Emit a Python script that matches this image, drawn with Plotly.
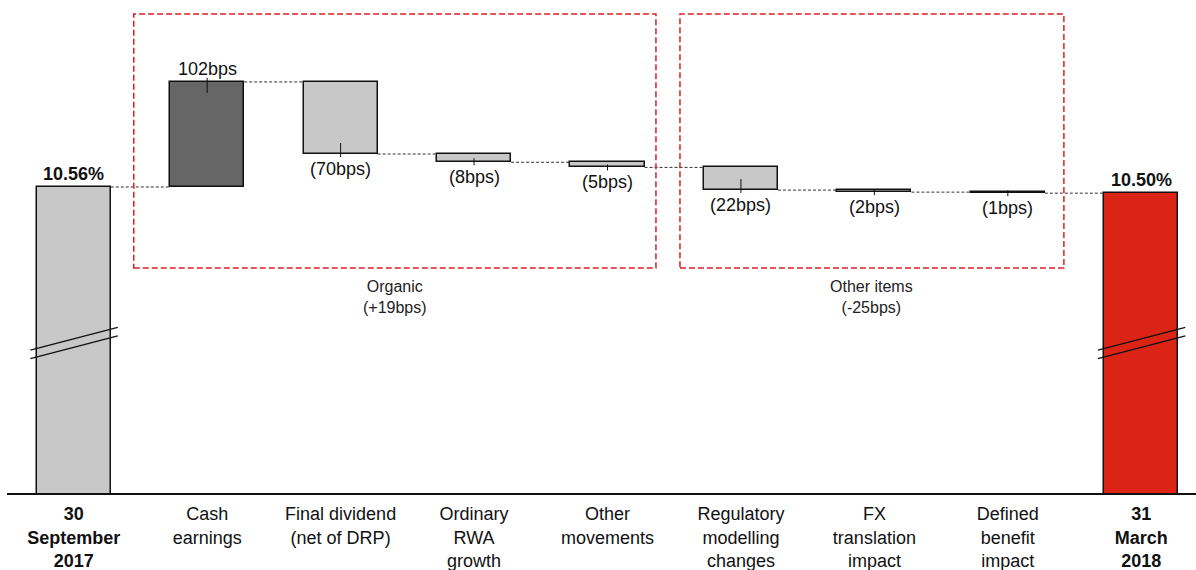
import plotly.graph_objects as go

# ---------------- data ----------------
categories = ["<b>30<br>September<br>2017</b>", "Cash<br>earnings", "Final dividend<br>(net of DRP)",
              "Ordinary<br>RWA<br>growth", "Other<br>movements", "Regulatory<br>modelling<br>changes",
              "FX<br>translation<br>impact", "Defined<br>benefit<br>impact", "<b>31<br>March<br>2018</b>"]
start_value = 10.56          # % CET1
end_value = 10.50            # %
changes_bps = [102, -70, -8, -5, -22, -2, -1]
value_labels = ["10.56%", "102bps", "(70bps)", "(8bps)", "(5bps)", "(22bps)", "(2bps)", "(1bps)", "10.50%"]
group_names = ["Organic<br>(+19bps)", "Other items<br>(-25bps)"]
group_members = [[1, 2, 3, 4], [5, 6, 7]]

# ---------------- styles ----------------
FONT = "Liberation Sans, Arial, sans-serif"
C_START = "#c8c8c8"
C_INC = "#666666"
C_DEC = "#c8c8c8"
C_END = "#dc2416"
BAR_W = 0.555
Y_RANGE = [7.589, 12.3755]
X_RANGE = [-0.5, 8.41]

n = len(categories)
xs = list(range(n))

# compute bases / heights
bases, heights, colors = [], [], []
levels = []  # running level after each bar
bases.append(0)
heights.append(start_value)
colors.append(C_START)
level = start_value
levels.append(level)
for c in changes_bps:
    d = c / 100.0
    if d >= 0:
        bases.append(level)
        colors.append(C_INC)
    else:
        bases.append(level + d)
        colors.append(C_DEC)
    heights.append(abs(d))
    level = level + d
    levels.append(level)
bases.append(0)
heights.append(end_value)
colors.append(C_END)
levels.append(end_value)

fig = go.Figure()
fig.add_trace(go.Bar(
    x=xs, y=heights, base=bases, width=BAR_W,
    marker=dict(color=colors, line=dict(color="#111111", width=1.5)),
    hoverinfo="skip", showlegend=False,
))

# connectors
cx, cy = [], []
for i in range(n - 1):
    lv = levels[i]
    cx += [xs[i] + BAR_W / 2, xs[i + 1] - BAR_W / 2, None]
    cy += [lv, lv, None]
fig.add_trace(go.Scatter(x=cx, y=cy, mode="lines",
                         line=dict(color="#333333", width=1, dash="3px,2px"),
                         hoverinfo="skip", showlegend=False))

shapes = []
annotations = []

# value labels and leader ticks
PX_PER_UNIT = 493 / (Y_RANGE[1] - Y_RANGE[0])
for i in range(n):
    if i == 0 or i == n - 1:
        top = bases[i] + heights[i]
        annotations.append(dict(x=xs[i], y=top, xref="x", yref="y", text="<b>" + value_labels[i] + "</b>",
                                showarrow=False, yanchor="bottom", yshift=1,
                                font=dict(family=FONT, size=18, color="#111111")))
        continue
    c = changes_bps[i - 1]
    hpx = heights[i] * PX_PER_UNIT
    inside = min(11, max(0.5 * hpx, 3))
    if c >= 0:
        edge = bases[i] + heights[i]
        annotations.append(dict(x=xs[i], y=edge, xref="x", yref="y", text=value_labels[i],
                                showarrow=False, yanchor="bottom", yshift=1,
                                font=dict(family=FONT, size=18, color="#111111")))
        shapes.append(dict(type="line", xref="x", yref="y", ysizemode="pixel", yanchor=edge,
                           x0=xs[i], x1=xs[i], y0=4, y1=-inside,
                           line=dict(color="#111111", width=1)))
    else:
        edge = bases[i]
        annotations.append(dict(x=xs[i], y=edge, xref="x", yref="y", text=value_labels[i],
                                showarrow=False, yanchor="top", yshift=-3,
                                font=dict(family=FONT, size=18, color="#111111")))
        shapes.append(dict(type="line", xref="x", yref="y", ysizemode="pixel", yanchor=edge,
                           x0=xs[i], x1=xs[i], y0=-3, y1=inside,
                           line=dict(color="#111111", width=1)))

# group boxes
box_pad = [(0.55, 0.363), (0.457, 0.42)]
for g, members in enumerate(group_members):
    lo, hi = members[0], members[-1]
    pl, pr = box_pad[g]
    x0 = lo - pl
    x1 = hi + pr
    shapes.append(dict(type="rect", xref="x", yref="paper", x0=x0, x1=x1, y0=0.4564, y1=0.9716,
                       line=dict(color="#dc1f26", width=1.5, dash="6px,3px"), fillcolor="rgba(0,0,0,0)"))
    annotations.append(dict(x=(x0 + x1) / 2, y=0.4564, xref="x", yref="paper", text=group_names[g],
                            showarrow=False, yanchor="top", yshift=-8,
                            font=dict(family=FONT, size=16, color="#222222")))

# axis break marks on the two end bars
for i in (0, n - 1):
    for off in (0.0, -0.0175):
        shapes.append(dict(type="line", xref="x", yref="paper",
                           x0=xs[i] - 0.325, x1=xs[i] + 0.33,
                           y0=0.29 + off, y1=0.336 + off,
                           line=dict(color="#111111", width=1.3)))

fig.update_layout(
    width=1196, height=570,
    margin=dict(l=7, r=0, t=0, b=77),
    plot_bgcolor="white", paper_bgcolor="white",
    bargap=0,
    shapes=shapes, annotations=annotations,
    font=dict(family=FONT, size=18, color="#111111"),
    xaxis=dict(range=X_RANGE, tickmode="array", tickvals=xs, ticktext=categories,
               showgrid=False, zeroline=False, showline=True, linecolor="#111111", linewidth=1.5,
               ticks="outside", ticklen=4, tickcolor="rgba(0,0,0,0)",
               tickfont=dict(family=FONT, size=18, color="#111111"), fixedrange=True),
    yaxis=dict(range=Y_RANGE, visible=False, showgrid=False, zeroline=False, fixedrange=True),
)

fig.write_html("out.html", config={"displayModeBar": False},
               post_script="document.body.style.margin='0';")
